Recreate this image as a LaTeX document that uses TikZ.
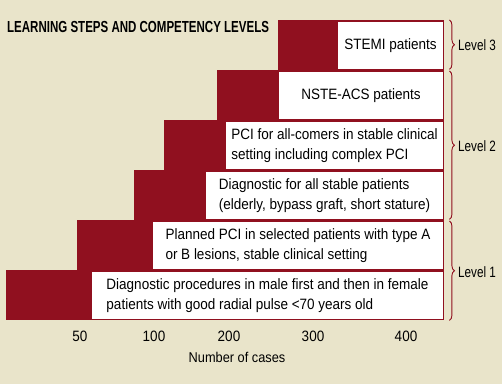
\documentclass[tikz,border=0pt]{standalone}
\usepackage{fontspec}
\setmainfont{Liberation Sans}[FakeStretch=0.9]
\newfontfamily\titlefont{Liberation Sans}[FakeStretch=0.72]
\newfontfamily\narrowfont{Liberation Sans}[FakeStretch=0.78]
\usetikzlibrary{positioning, calc, decorations.pathreplacing}
\definecolor{stepred}{RGB}{144,16,31}
\definecolor{paper}{RGB}{233,228,202}

\begin{document}
\begin{tikzpicture}[x=1pt, y=-1pt,
  redstep/.style={fill=stepred, inner sep=0pt, minimum height=50pt, anchor=north west},
  whitebox/.style={fill=white, inner sep=0pt, minimum height=47pt, anchor=north east},
  steptext/.style={align=left, inner sep=0pt, font=\fontsize{15}{20}\selectfont},
  ticklabel/.style={inner sep=0pt, font=\fontsize{15}{16}\selectfont},
  levelbrace/.style={draw=stepred, line width=0.9pt, decorate, decoration={brace, amplitude=5pt}},
  levellabel/.style={anchor=west, inner sep=0pt, font=\fontsize{15}{16}\narrowfont}]
% background and frame
\fill[paper] (0,0) rectangle (502,384);
\useasboundingbox (0,0) rectangle (502,384);
\node[anchor=west, inner sep=0pt, font=\fontsize{16}{18}\titlefont\bfseries] (title) at (7,27)
  {LEARNING STEPS AND COMPETENCY LEVELS};

% steps, top to bottom
\foreach \n/\rx/\wx/\ty/\txt in {
  1/278/338/20/{STEMI patients},
  2/217/279/70/{NSTE-ACS patients},
  3/164/226/120/{PCI for all-comers in stable clinical\\setting including complex PCI},
  4/134/206/170/{Diagnostic for all stable patients\\(elderly, bypass graft, short stature)},
  5/77/153/220/{Planned PCI in selected patients with type A\\or B lesions, stable clinical setting},
  6/6/92/270/{Diagnostic procedures in male first and then in female\\patients with good radial pulse <70 years old}}
{
  \pgfmathsetmacro\rw{444-\rx}
  \pgfmathsetmacro\ww{442.5-\wx}
  \node[redstep, minimum width=\rw pt] (step\n) at (\rx,\ty) {};
  \node[whitebox, minimum width=\ww pt] (box\n) at ([xshift=-1.5pt, yshift=-1.5pt]step\n.north east) {};
  \node[steptext] (txt\n) at (box\n) {\txt};
}

% levels
\draw[levelbrace] ([xshift=5pt]step1.north east) -- ([xshift=5pt, yshift=1pt]step1.south east);
\draw[levelbrace] ([xshift=5pt, yshift=-1pt]step2.north east) -- ([xshift=5pt, yshift=1pt]step4.south east);
\draw[levelbrace] ([xshift=5pt, yshift=-1pt]step5.north east) -- ([xshift=5pt]step6.south east);
\node[levellabel] (lvl3) at (458,45) {Level 3};
\node[levellabel] (lvl2) at (458,146) {Level 2};
\node[levellabel] (lvl1) at (458,272) {Level 1};

% axis
\foreach \v/\x in {50/80, 100/154, 200/229, 300/313, 400/406}
  \node[ticklabel] (tick\v) at (\x,336) {\v};
\node[ticklabel, font=\fontsize{14.2}{16}\selectfont] (xlabel) at (237,357) {Number of cases};
\end{tikzpicture}
\end{document}
